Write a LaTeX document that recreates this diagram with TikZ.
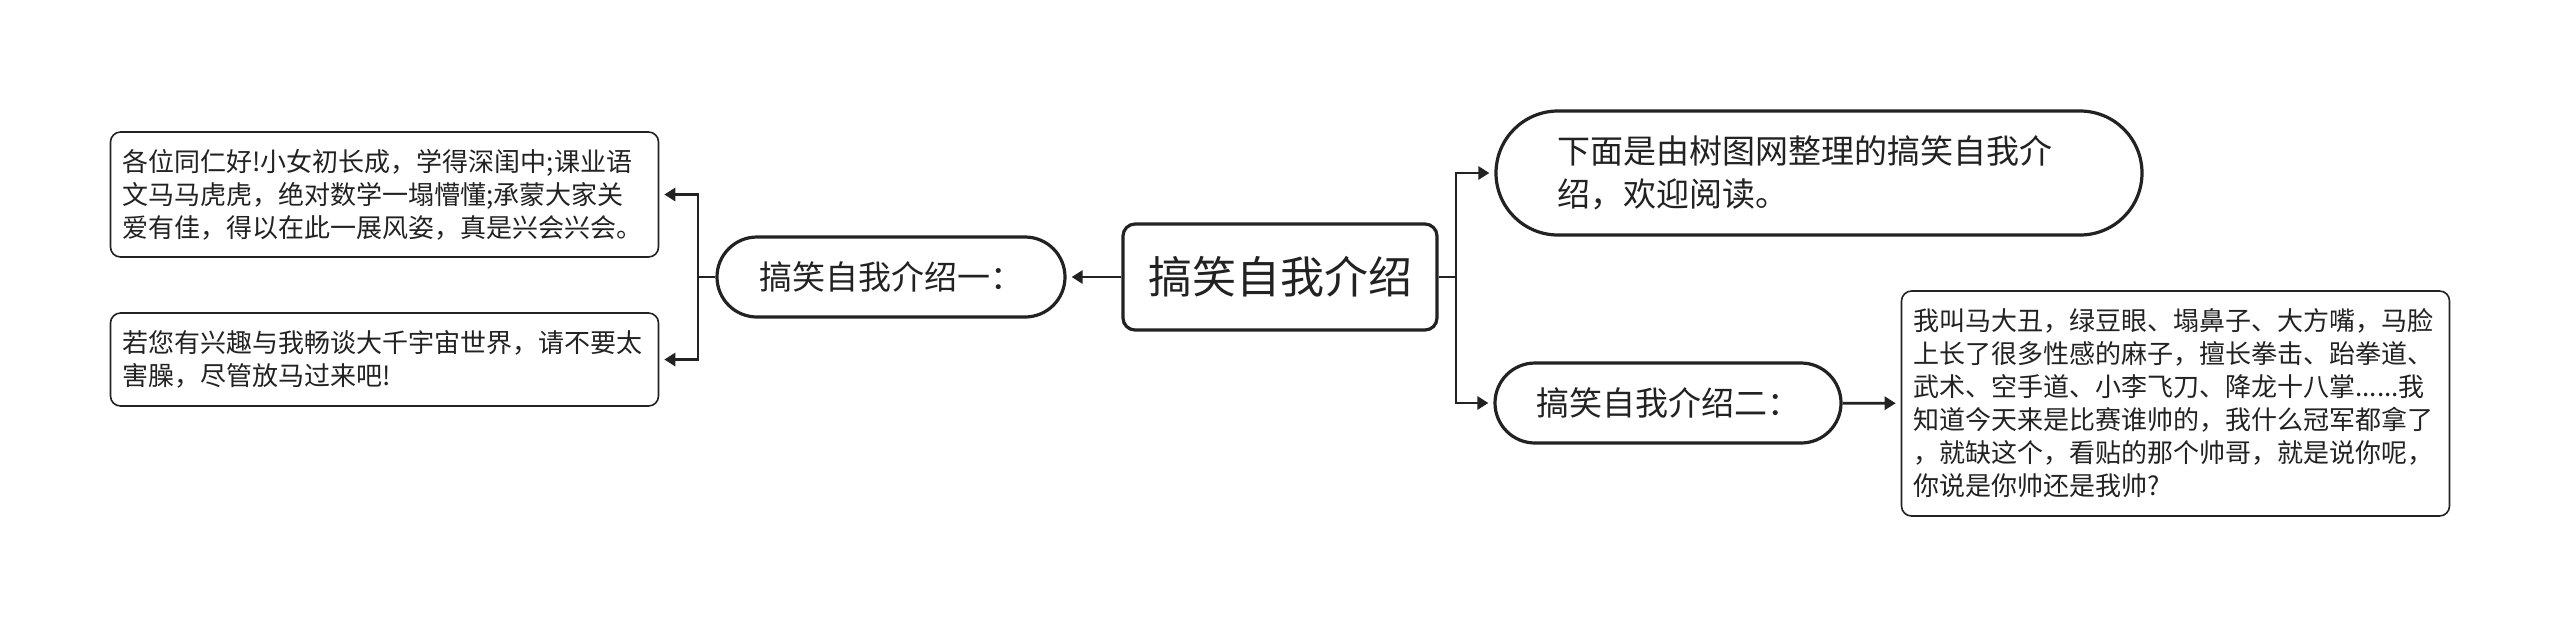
\documentclass[tikz,border=0pt]{standalone}
\usepackage{fontspec}
\setmainfont{Noto Sans CJK SC}
\usetikzlibrary{arrows.meta, positioning}
\definecolor{mdark}{RGB}{34,34,34}

\begin{document}
\begin{tikzpicture}[x=0.5pt, y=-0.5pt,
  rootbox/.style={draw=mdark, line width=1.6pt, rounded corners=6pt, fill=white,
                  minimum width=157pt, minimum height=53pt, inner sep=0pt,
                  text=mdark, font=\fontsize{22}{26}\selectfont},
  pill/.style={draw=mdark, line width=1.6pt, rounded corners=20pt, fill=white,
               minimum width=174pt, minimum height=40pt, inner sep=0pt,
               text=mdark, font=\fontsize{16.5}{21.5}\selectfont},
  leaf/.style={draw=mdark, line width=0.8pt, rounded corners=5pt, fill=white,
               text width=262pt, inner xsep=6pt, inner ysep=0pt, align=left,
               text=mdark, font=\fontsize{13}{16.5}\selectfont},
  conn/.style={draw=mdark, line width=1.4pt},
  arr/.style={conn, -{Triangle[length=5.5pt, width=6.5pt]}, shorten >=2.5pt}
]
\useasboundingbox (0,0) rectangle (2560,629);

\node[rootbox] (root) at (1280,277) {搞笑自我介绍};

\node[pill] (intro1) at (891,277) {搞笑自我介绍一：};
\node[leaf, minimum height=62.5pt] (hello) at (384.5,194.5)
  {各位同仁好!小女初长成，学得深闺中;课业语\\文马马虎虎，绝对数学一塌懵懂;承蒙大家关\\爱有佳，得以在此一展风姿，真是兴会兴会。};
\node[leaf, minimum height=46.5pt] (invite) at (384.5,359.5)
  {若您有兴趣与我畅谈大千宇宙世界，请不要太\\害臊，尽管放马过来吧!};

\node[pill, rounded corners=31pt, minimum height=62pt, text width=262pt,
      inner xsep=30.5pt, align=left] (lead) at (1819,173)
  {下面是由树图网整理的搞笑自我介\\绍，欢迎阅读。};
\node[pill, minimum width=173pt] (intro2) at (1668,403) {搞笑自我介绍二：};
\node[leaf, minimum height=112.5pt] (story) at (2175.5,403.5)
  {我叫马大丑，绿豆眼、塌鼻子、大方嘴，马脸\\上长了很多性感的麻子，擅长拳击、跆拳道、\\武术、空手道、小李飞刀、降龙十八掌......我\\知道今天来是比赛谁帅的，我什么冠军都拿了\\，就缺这个，看贴的那个帅哥，就是说你呢，\\你说是你帅还是我帅?};

\coordinate (ljoin) at (698,277);
\coordinate (rjoin) at (1456,277);

\draw[arr] (root) -- (intro1);
\draw[conn] (intro1) -- (ljoin);
\draw[arr] (ljoin) |- (hello);
\draw[arr] (ljoin) |- (invite);

\draw[conn] (root) -- (rjoin);
\draw[arr] (rjoin) |- (lead);
\draw[arr] (rjoin) |- (intro2);
\draw[arr] (intro2) -- (story);
\end{tikzpicture}
\end{document}
